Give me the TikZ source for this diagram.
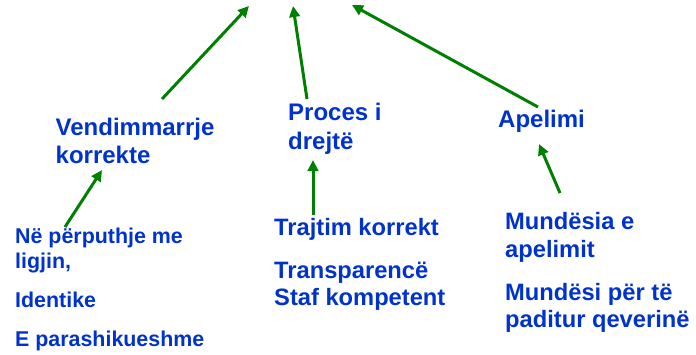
\documentclass[tikz,border=0pt]{standalone}
\usepackage{fontspec}
\setmainfont{Liberation Sans}
\usetikzlibrary{arrows.meta}
\definecolor{txtblue}{RGB}{0,51,204}
\definecolor{arrgreen}{RGB}{0,128,0}
\tikzset{
  lbl/.style={anchor=base west, inner sep=0pt, align=left, text=txtblue,
    font=\fontsize{24}{27.6}\selectfont\bfseries},
  itm/.style={anchor=base west, inner sep=0pt, align=left, text=txtblue,
    font=\fontsize{23.7}{27}\selectfont\bfseries},
  itms/.style={anchor=base west, inner sep=0pt, align=left, text=txtblue,
    font=\fontsize{21.4}{25}\selectfont\bfseries},
  arr/.style={draw=arrgreen, line width=3pt,
    -{Triangle[length=11pt,width=10.5pt]}}
}
\begin{document}
\begin{tikzpicture}[x=1pt,y=-1pt]
\useasboundingbox[fill=white] (0,0) rectangle (696,354);
% top labels (base anchor = baseline of last line)
\node[lbl] (vend) at (55.5,163.3) {Vendimmarrje\\korrekte};
\node[lbl, font=\fontsize{24}{29}\selectfont\bfseries] (proc) at (288,149) {Proces i\\drejtë};
\node[lbl] (apel) at (498,127) {Apelimi};
% items
\node[itms] (l1) at (15,268) {Në përputhje me\\ligjin,};
\node[itms] (l2) at (15,307) {Identike};
\node[itms] (l3) at (15,346) {E parashikueshme};
\node[itm] (m1) at (274,235) {Trajtim korrekt};
\node[itm] (m2) at (274,305) {Transparencë\\Staf kompetent};
\node[itm, font=\fontsize{23.7}{28}\selectfont\bfseries] (r1) at (505,257) {Mundësia e\\apelimit};
\node[itm] (r2) at (505,327) {Mundësi për të\\paditur qeverinë};
% free ends
\coordinate (g1) at (249,6);
\coordinate (g2) at (293,6);
\coordinate (g3) at (352,5);
% arrows
\draw[arr] ([shift={(106.5,-64.3)}]vend.base west) -- (g1);
\draw[arr] ([shift={(19,-50)}]proc.base west) -- (g2);
\draw[arr] ([shift={(40,-20)}]apel.base west) -- (g3);
\draw[arr] ([shift={(55,-64)}]r1.base west) -- ([shift={(41,17)}]apel.base west);
\draw[arr] ([shift={(39,-20)}]m1.base west) -- ([shift={(25,11)}]proc.base west);
\draw[arr] ([shift={(50,-41)}]l1.base west) -- ([shift={(46.5,6.7)}]vend.base west);
\end{tikzpicture}
\end{document}
